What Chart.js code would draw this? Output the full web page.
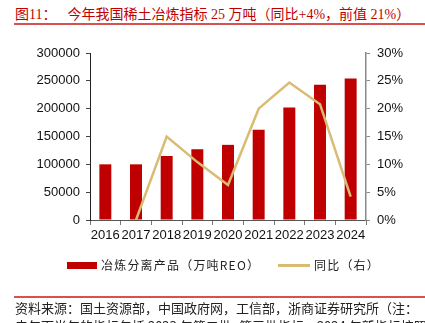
<!DOCTYPE html>
<html>
<head>
<meta charset="utf-8">
<script src="https://cdn.jsdelivr.net/npm/chart.js@4.4.0/dist/chart.umd.min.js"></script>
<style>
  body { margin: 0; background: #fff; }
  #wrap { position: relative; width: 425px; height: 323px; overflow: hidden; background: #fff; }
  #chart { position: absolute; left: 0; top: 0; }
  .title {
    position: absolute; left: 15px; top: 3px; white-space: nowrap;
    font-family: "Liberation Serif", "Noto Sans CJK SC", serif; font-size: 14px; color: #c00000;
  }
  .title .main { margin-left: 11px; }
  .rule { position: absolute; left: 14px; right: 0; height: 1.5px; background: #d85050; }
  .legend {
    position: absolute; top: 256px; white-space: nowrap;
    font-family: "Noto Sans CJK SC", sans-serif; font-size: 12px; color: #222; letter-spacing: 1.2px;
  }
  .legend .sw { position: absolute; }
  .note {
    position: absolute; left: 15px; white-space: nowrap;
    font-family: "Noto Sans CJK SC", sans-serif; font-size: 13px; color: #222;
  }
</style>
</head>
<body>
<div id="wrap">
  <div class="title">图11：<span class="main">今年我国稀土冶炼指标 25 万吨（同比+4%，前值 21%）</span></div>
  <div class="rule" style="top:23px"></div>
  <canvas id="chart" width="425" height="323"></canvas>
  <div class="legend" style="left:67px">
    <span class="sw" style="left:0;top:6px;width:30px;height:7px;background:#c00000"></span>
    <span style="margin-left:34px">冶炼分离产品（万吨REO）</span>
  </div>
  <div class="legend" style="left:278px">
    <span class="sw" style="left:0;top:8px;width:32px;height:3px;background:#d9bb72"></span>
    <span style="margin-left:36px">同比（右）</span>
  </div>
  <div class="rule" style="top:296px"></div>
  <div class="note" style="top:298px">资料来源：国土资源部，中国政府网，工信部，浙商证券研究所（注：</div>
  <div class="note" style="top:316px">去年下半年的指标包括 2023 年第二批+第三批指标，2024 年新指标按照仍有</div>
</div>
<script>
// 冶炼分离指标（吨）及同比
const years = ['2016', '2017', '2018', '2019', '2020', '2021', '2022', '2023', '2024'];
const smeltQuota = [100000, 100000, 115000, 127000, 135000, 162000, 202000, 243000, 254000];
const yoyPct = [null, 0, 15.0, 10.4, 6.3, 20.0, 24.7, 20.8, 4.2];

const LEFT_MAX = 300000;
const RIGHT_MAX = 30;

const tickFont = { family: '"Liberation Sans", Arial, sans-serif', size: 13 };

new Chart(document.getElementById('chart').getContext('2d'), {
  type: 'bar',
  data: {
    labels: years,
    datasets: [
      {
        type: 'line',
        label: '同比（右）',
        data: yoyPct,
        yAxisID: 'y1',
        borderColor: '#d9bb72',
        borderWidth: 2.5,
        pointRadius: 0,
        tension: 0,
        order: 0
      },
      {
        type: 'bar',
        label: '冶炼分离产品（万吨REO）',
        data: smeltQuota,
        yAxisID: 'y',
        backgroundColor: '#c00000',
        barPercentage: 0.39,
        categoryPercentage: 1,
        order: 1
      }
    ]
  },
  options: {
    responsive: false,
    animation: false,
    layout: { padding: { top: 53, bottom: 83, left: 0, right: 0 } },
    plugins: {
      legend: { display: false },
      tooltip: { enabled: false }
    },
    scales: {
      x: {
        grid: { drawOnChartArea: false, drawTicks: true, tickLength: 5, color: '#777', offset: true },
        border: { display: true, color: '#555', width: 1 },
        ticks: { color: '#111', font: tickFont, padding: 3, maxRotation: 0, autoSkip: false },
        afterFit: (s) => { s.height = 20; }
      },
      y: {
        position: 'left',
        min: 0,
        max: LEFT_MAX,
        grid: { drawOnChartArea: false, drawTicks: true, tickLength: 4, color: '#444' },
        border: { display: true, color: '#222', width: 1 },
        ticks: { stepSize: 50000, color: '#111', font: tickFont, padding: 6, callback: (v) => String(v) },
        afterFit: (s) => { s.width = 90; }
      },
      y1: {
        position: 'right',
        min: 0,
        max: RIGHT_MAX,
        grid: { drawOnChartArea: false, drawTicks: true, tickLength: 4, color: '#888' },
        border: { display: true, color: '#888', width: 1.5 },
        ticks: { stepSize: 5, color: '#111', font: tickFont, padding: 7, callback: (v) => v + '%' },
        afterFit: (s) => { s.width = 59; }
      }
    }
  }
});
</script>
</body>
</html>
